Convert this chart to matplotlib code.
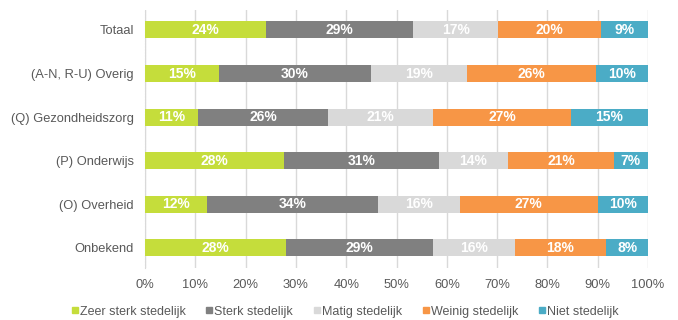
import matplotlib.pyplot as plt
from matplotlib.lines import Line2D
import numpy as np

plt.rcParams['font.family'] = ['Liberation Sans', 'DejaVu Sans']

categories = ['Totaal', '(A-N, R-U) Overig', '(Q) Gezondheidszorg',
              '(P) Onderwijs', '(O) Overheid', 'Onbekend']
series = ['Zeer sterk stedelijk', 'Sterk stedelijk', 'Matig stedelijk',
          'Weinig stedelijk', 'Niet stedelijk']

zeer_sterk = [24.1, 14.7, 10.6, 27.6, 12.4, 28.0]
sterk = [29.2, 30.2, 25.8, 30.8, 34.0, 29.2]
matig = [16.9, 19.1, 20.9, 13.8, 16.2, 16.3]
weinig = [20.4, 25.6, 27.4, 21.0, 27.4, 18.2]
niet = [9.4, 10.4, 15.3, 6.8, 10.0, 8.3]

colors = ['#C5DD3B', '#808080', '#D9D9D9', '#F79646', '#4BACC6']
text_grey = '#595959'

fig = plt.figure(figsize=(6.78, 3.2), dpi=100)
ax = fig.add_axes([0.2139, 0.1625, 0.7419, 0.8065])

y = np.arange(len(categories))
left = np.zeros(len(categories))
for name, vals, col in zip(series, [zeer_sterk, sterk, matig, weinig, niet], colors):
    vals = np.array(vals)
    ax.barh(y, vals, left=left, height=0.39, color=col, zorder=3)
    for yi, l, v in zip(y, left, vals):
        ax.text(l + v / 2, yi, f'{v:.0f}%', ha='center', va='center',
                color='white', fontsize=10, fontweight='bold', zorder=4)
    left += vals

ax.set_xlim(0, 100)
ax.set_ylim(len(categories) - 0.54, -0.46)
ax.set_yticks(y)
ax.set_yticklabels(categories)
ax.set_xticks(np.arange(0, 101, 10))
ax.set_xticklabels([f'{t}%' for t in range(0, 101, 10)])
ax.tick_params(axis='both', length=0, colors=text_grey, labelsize=9.3)
ax.tick_params(axis='y', pad=8)
ax.tick_params(axis='x', pad=8)
ax.grid(axis='x', color='#D9D9D9', linewidth=1, zorder=0)
for s in ['top', 'right', 'bottom']:
    ax.spines[s].set_visible(False)
ax.spines['left'].set_color('#D9D9D9')
ax.spines['left'].set_linestyle(':')

handles = [Line2D([0], [0], marker='s', color='w', markerfacecolor=c,
                  markeredgecolor=c, markersize=5, label=n)
           for n, c in zip(series, colors)]
fig.legend(handles=handles, loc='center', bbox_to_anchor=(0.508, 0.026), ncol=5,
           frameon=False, fontsize=9, labelcolor=text_grey, handletextpad=0.05,
           columnspacing=1.55, handlelength=0.7)

fig.savefig('out.png', dpi=100)
